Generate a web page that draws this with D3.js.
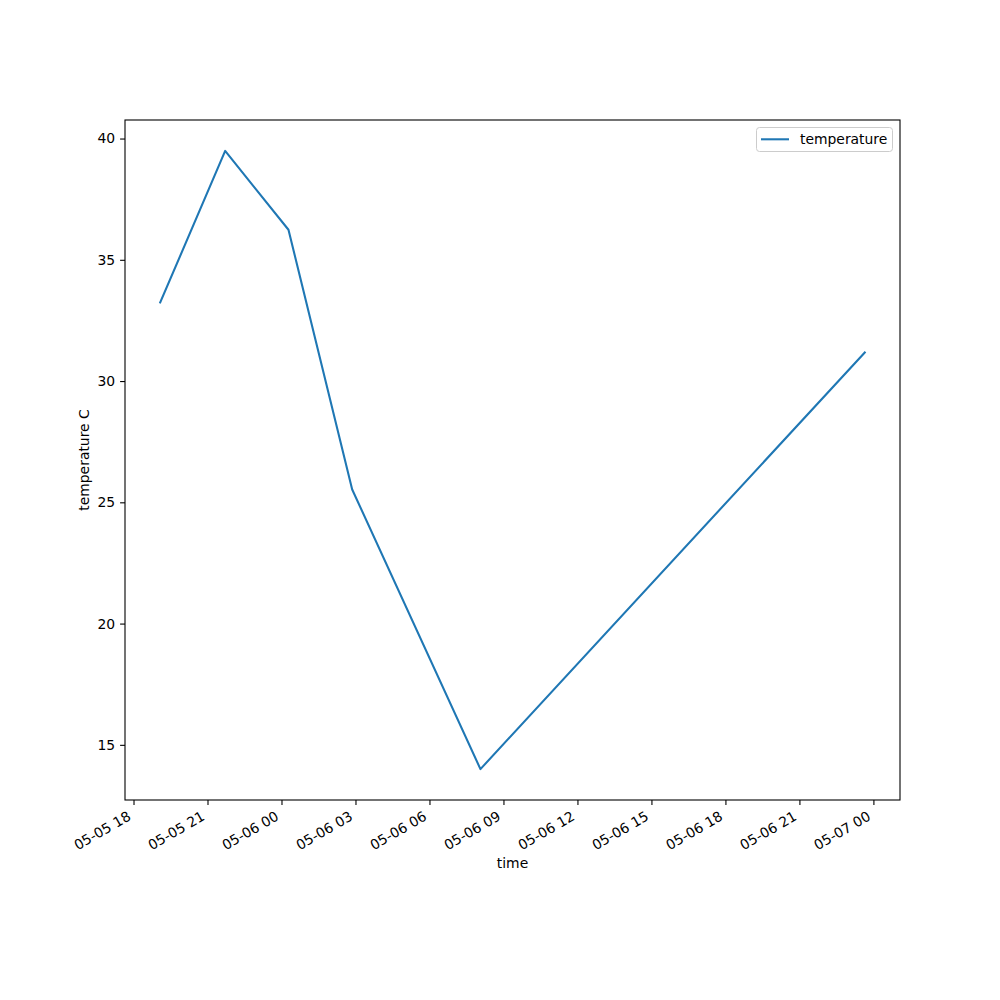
<!DOCTYPE html>
<html><head><meta charset="utf-8">
<script src="https://cdn.jsdelivr.net/npm/d3@7"></script>
<style>body{margin:0;background:#fff}svg{display:block}text{font-family:"DejaVu Sans",sans-serif;fill:#000}</style>
</head><body>
<svg id="c" width="1000" height="1000"></svg>
<script>
const times = ["2023-05-05T19:05:00Z","2023-05-05T21:43:00Z","2023-05-06T00:17:00Z","2023-05-06T02:52:00Z","2023-05-06T08:04:00Z","2023-05-06T23:39:00Z"];
const temperature = [33.24, 39.49, 36.24, 25.53, 14.0, 31.18];
const yTicks = [15, 20, 25, 30, 35, 40];
const xTickStart = "2023-05-05T18:00:00Z", xTickEnd = "2023-05-07T00:00:00Z";
const seriesName = "temperature", xLabel = "time", yLabel = "temperature C";

const svg = d3.select("#c");
const L = 125, R = 900, T = 120, B = 800;
const fs = 13.9;
const data = times.map((t, i) => ({t: new Date(t), v: temperature[i]}));

const tExt = d3.extent(data, d => +d.t), tPad = (tExt[1] - tExt[0]) * 0.05;
const vExt = d3.extent(data, d => d.v), vPad = (vExt[1] - vExt[0]) * 0.05;
const x = d3.scaleUtc().domain([new Date(tExt[0] - tPad), new Date(tExt[1] + tPad)]).range([L, R]);
const y = d3.scaleLinear().domain([vExt[0] - vPad, vExt[1] + vPad]).range([B, T]);

const xTicks = d3.utcHour.every(3).range(new Date(xTickStart), new Date(+new Date(xTickEnd) + 1));
const fmt = d3.utcFormat("%m-%d %H");

// x axis
const xa = svg.append("g").attr("transform", `translate(0,${B})`)
  .call(d3.axisBottom(x).tickValues(xTicks).tickSize(4.9).tickFormat(""));
xa.select(".domain").remove();
xa.selectAll(".tick line").attr("stroke", "#000").attr("stroke-width", 1.1);
xTicks.forEach(t => {
  const tx = x(t);
  svg.append("text").attr("transform", `translate(${tx - 7},${B + 10}) rotate(-30)`)
    .attr("text-anchor", "end").attr("dy", "0.76em").attr("font-size", fs).text(fmt(t));
});

// y axis
const ya = svg.append("g").attr("transform", `translate(${L},0)`)
  .call(d3.axisLeft(y).tickValues(yTicks).tickSize(4.9).tickPadding(4.9).tickFormat(d3.format("d")));
ya.select(".domain").remove();
ya.selectAll(".tick line").attr("stroke", "#000").attr("stroke-width", 1.1);
ya.selectAll(".tick text").attr("font-size", fs).attr("font-family", "DejaVu Sans").attr("fill", "#000");

// line
svg.append("path").datum(data).attr("fill", "none").attr("stroke", "#1f77b4").attr("stroke-width", 2.08)
  .attr("stroke-linejoin", "round").attr("stroke-linecap", "square")
  .attr("d", d3.line().x(d => x(d.t)).y(d => y(d.v)));

// frame
svg.append("rect").attr("x", L).attr("y", T).attr("width", R - L).attr("height", B - T)
  .attr("fill", "none").attr("stroke", "#000").attr("stroke-width", 1.1);

// labels
svg.append("text").attr("x", (L + R) / 2).attr("y", 868).attr("text-anchor", "middle").attr("font-size", fs).text(xLabel);
svg.append("text").attr("transform", `translate(89,${(T + B) / 2}) rotate(-90)`).attr("text-anchor", "middle").attr("font-size", fs).text(yLabel);

// legend
const lg = svg.append("g");
lg.append("rect").attr("x", 756.5).attr("y", 127.5).attr("width", 136).attr("height", 24).attr("rx", 3)
  .attr("fill", "#fff").attr("fill-opacity", 0.8).attr("stroke", "#ccc").attr("stroke-width", 1);
lg.append("line").attr("x1", 761).attr("x2", 789).attr("y1", 139.3).attr("y2", 139.3)
  .attr("stroke", "#1f77b4").attr("stroke-width", 2.08);
lg.append("text").attr("x", 800).attr("y", 144).attr("font-size", fs).text(seriesName);
</script>
</body></html>
